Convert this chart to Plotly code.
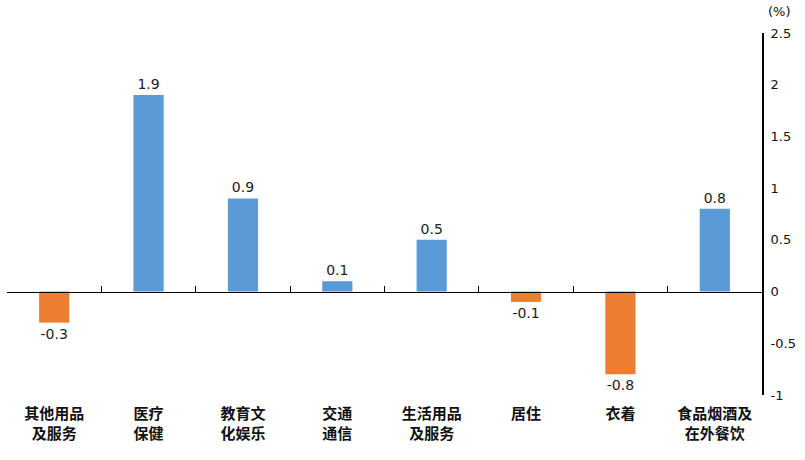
import plotly.graph_objects as go

categories = ["其他用品<br>及服务", "医疗<br>保健", "教育文<br>化娱乐", "交通<br>通信",
              "生活用品<br>及服务", "居住", "衣着", "食品烟酒及<br>在外餐饮"]
values = [-0.3, 1.9, 0.9, 0.1, 0.5, -0.1, -0.8, 0.8]
y_ticks = [-1, -0.5, 0, 0.5, 1, 1.5, 2, 2.5]
y_tick_labels = ["-1", "-0.5", "0", "0.5", "1", "1.5", "2", "2.5"]

BLUE = "#5B9BD5"
ORANGE = "#ED7D31"
colors = [BLUE if v >= 0 else ORANGE for v in values]
idx = list(range(len(categories)))
y_min, y_max = -1, 2.5

fig = go.Figure()
fig.add_trace(go.Bar(
    x=idx, y=values, marker_color=colors, marker_line_width=0, width=0.32,
    text=[f"{v:g}" for v in values], textposition="outside",
    textfont=dict(family="DejaVu Sans", size=14, color="#222"),
    cliponaxis=False, showlegend=False,
))
# invisible trace to hold the zero-line axis
fig.add_trace(go.Scatter(x=[0], y=[0], xaxis="x2", mode="markers",
                         marker=dict(opacity=0), hoverinfo="skip", showlegend=False))

fig.update_layout(
    width=805, height=460,
    margin=dict(l=7, r=43, t=33, b=65, autoexpand=False),
    paper_bgcolor="white", plot_bgcolor="white",
    font=dict(family="Noto Sans CJK SC", color="#111"),
    xaxis=dict(range=[-0.5, len(categories) - 0.5], tickvals=idx,
               ticktext=[f"<b>{c}</b>".replace("<br>", "</b><br><b>") for c in categories],
               showline=False, showgrid=False, zeroline=False, ticks="",
               ticklabelstandoff=8,
               tickfont=dict(family="Noto Sans CJK SC", size=15, color="#111")),
    xaxis2=dict(overlaying="x", anchor="free", position=(0 - y_min) / (y_max - y_min),
                range=[-0.5, len(categories) - 0.5],
                tickvals=[i - 0.5 for i in idx], ticktext=[""] * len(idx),
                ticks="inside", ticklen=6, tickcolor="black", tickwidth=1,
                showline=True, linecolor="black", linewidth=1,
                showgrid=False, zeroline=False, showticklabels=False),
    yaxis=dict(range=[y_min, y_max], side="right", tickvals=y_ticks, ticktext=y_tick_labels,
               showline=True, linecolor="black", linewidth=2, ticks="",
               showgrid=False, zeroline=False, ticklabelstandoff=4,
               tickfont=dict(family="DejaVu Sans", size=13, color="#111")),
    annotations=[dict(text="(%)", xref="paper", yref="paper", x=1.0, y=1.0,
                      xanchor="left", yanchor="bottom", xshift=4, yshift=12, showarrow=False,
                      font=dict(family="DejaVu Sans", size=13, color="#111"))],
)

fig.write_html("out.html", config={"displayModeBar": False},
               post_script="document.body.style.margin='0';document.body.style.padding='0';")
